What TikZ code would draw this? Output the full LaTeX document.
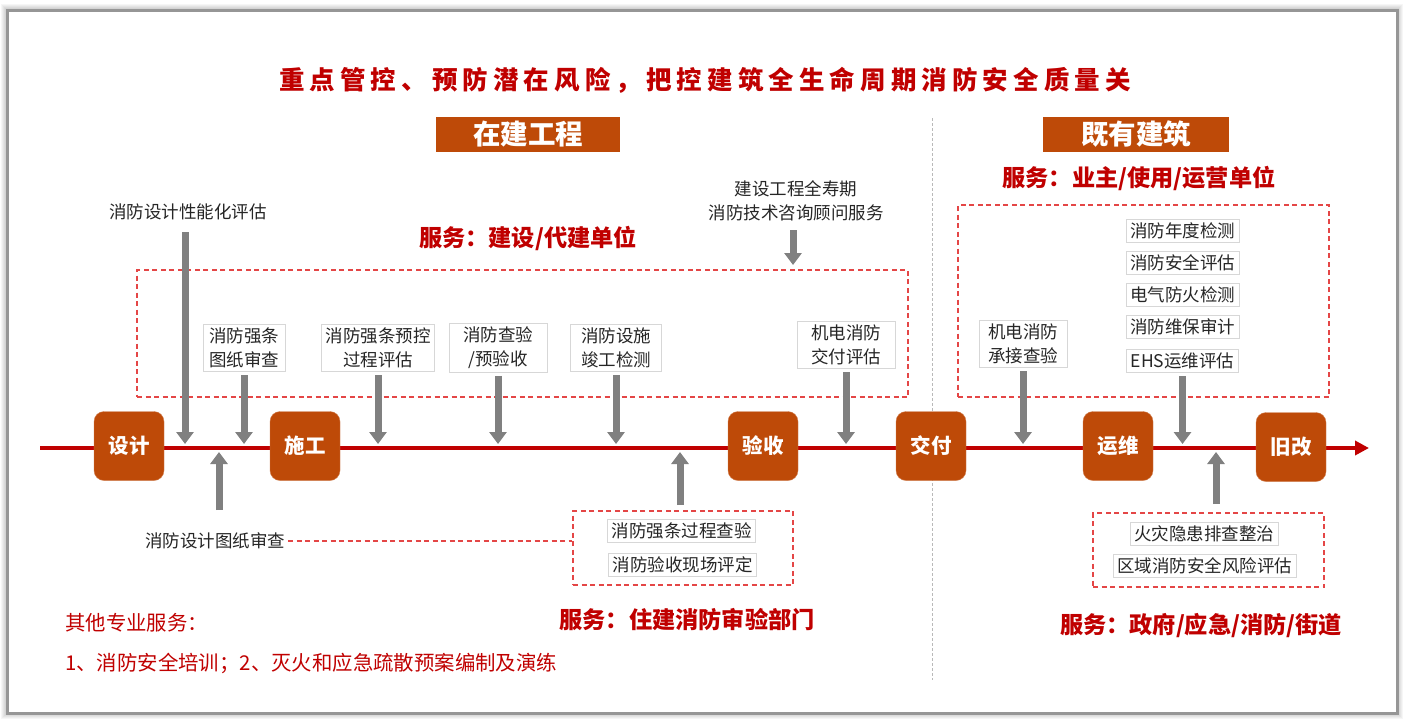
\documentclass[tikz,border=0pt]{standalone}
\usepackage{fontspec}
\setmainfont{Noto Sans CJK SC}
\usetikzlibrary{arrows.meta}
\definecolor{brn}{RGB}{190,74,8}
\definecolor{dred}{RGB}{192,0,0}
\definecolor{dashred}{RGB}{228,70,70}
\definecolor{garr}{RGB}{128,128,128}
\definecolor{txt}{RGB}{38,38,38}
\definecolor{bxline}{RGB}{215,215,215}
\definecolor{frame}{RGB}{150,150,150}
\tikzset{
  stage/.style={fill=brn, draw=brn!70!white, rounded corners=10pt, minimum width=70pt, minimum height=69pt, text=white, font=\fontsize{20.5}{24}\selectfont\bfseries, inner sep=0pt},
  hdr/.style={fill=brn, text=white, font=\fontsize{27.5}{30}\selectfont\bfseries, minimum height=35pt, inner sep=0pt},
  svc/.style={text=dred, font=\fontsize{23.2}{26}\selectfont\bfseries, inner sep=0pt},
  lbl/.style={text=txt, font=\fontsize{17.5}{24}\selectfont, align=center, inner sep=0pt},
  sbox/.style={draw=bxline, fill=white, line width=1pt, text=txt, font=\fontsize{17.5}{24}\selectfont, align=center, inner xsep=4pt, inner ysep=3.5pt},
  dbox/.style={draw=dashred, line width=1.4pt, dash pattern=on 5pt off 3.5pt},
  dline/.style={draw=dashred, line width=1.2pt, dash pattern=on 5pt off 3.5pt},
  garrow/.style={draw=garr, line width=7pt, -{Triangle[width=17pt,length=12pt]}},
  tline/.style={draw=dred, line width=4pt, -{Triangle[width=14pt,length=14pt]}},
  note/.style={text=dred, font=\fontsize{20.4}{24}\selectfont, anchor=west, inner sep=0pt}
}
\begin{document}
\begin{tikzpicture}[x=1pt,y=-1pt]
\useasboundingbox (0,0) rectangle (1405,726);
\fill[white] (0,0) rectangle (1405,726);
% soft shadow of frame
\foreach \i in {1,...,6} {
  \draw[black, opacity=0.035, line width=2*\i pt] (7,10) rectangle (1397,713);
}
\fill[white] (7,10) rectangle (1397,713);
\draw[frame, line width=3pt] (7,10) rectangle (1397,713);

% title
\node[text=dred, font=\fontsize{25.5}{30}\selectfont\bfseries\addfontfeature{LetterSpace=20}, inner sep=0pt] (title) at (705,80) {重点管控、预防潜在风险，把控建筑全生命周期消防安全质量关};

% divider
\coordinate (divT) at (932,118);
\coordinate (divB) at (932,680);
\draw[gray!55, line width=0.8pt, dash pattern=on 3pt off 2pt] (divT) -- (divB);

% headers
\node[hdr, minimum width=184pt] (zj) at (528,134.5) {在建工程};
\node[hdr, minimum width=186pt] (jy) at (1136,134) {既有建筑};

% service labels
\node[svc] (svc1) at (528,238) {服务：建设/代建单位};
\node[svc] (svc2) at (1139,178) {服务：业主/使用/运营单位};
\node[svc] (svc3) at (687,620) {服务：住建消防审验部门};
\node[svc] (svc4) at (1201,626) {服务：政府/应急/消防/街道};

% dashed groups
\node[dbox, minimum width=771pt, minimum height=127pt] (R1) at (522.5,333.5) {};
\node[dbox, minimum width=371pt, minimum height=192pt] (R2) at (1143.5,301) {};
\node[dbox, minimum width=220pt, minimum height=74pt] (R3) at (683,548) {};
\node[dbox, minimum width=231pt, minimum height=74pt] (R4) at (1208.5,550) {};

% timeline
\coordinate (tlS) at (40,448);
\coordinate (tlE) at (1369,448);
\draw[tline] (tlS) -- (tlE);
\coordinate (tipT) at (0,444);
\coordinate (tipB) at (0,452);

% stages
\node[stage] (s1) at (129,446) {设计};
\node[stage] (s2) at (305,446) {施工};
\node[stage] (s3) at (763,446) {验收};
\node[stage] (s4) at (931,446) {交付};
\node[stage] (s5) at (1118,446) {运维};
\node[stage] (s6) at (1291,447) {旧改};

% top labels
\node[lbl] (perf) at (188,212) {消防设计性能化评估};
\node[lbl] (cons) at (796,201) {建设工程全寿期\\消防技术咨询顾问服务};
\coordinate (perfA) at (185,232);
\coordinate (consA) at (793,230);
\coordinate (consB) at (793,265);

% boxes in R1
\node[sbox, minimum width=82pt] (b1) at (244,348) {消防强条\\图纸审查};
\node[sbox, minimum width=109pt] (b2) at (378,348) {消防强条预控\\过程评估};
\node[sbox, minimum width=98pt] (b3) at (498,348) {消防查验\\/预验收};
\node[sbox, minimum width=91pt] (b4) at (616,348) {消防设施\\竣工检测};
\node[sbox, minimum width=98pt] (b5) at (846,345) {机电消防\\交付评估};

% boxes in R2
\node[sbox, minimum width=88pt] (b6) at (1023,344) {机电消防\\承接查验};
\node[sbox] (r1) at (1182.5,231) {消防年度检测};
\node[sbox] (r2) at (1182.5,263) {消防安全评估};
\node[sbox] (r3) at (1182.5,295) {电气防火检测};
\node[sbox] (r4) at (1182.5,327) {消防维保审计};
\node[sbox] (r5) at (1182.5,361) {EHS运维评估};

% bottom boxes
\node[sbox] (m1) at (681.5,531) {消防强条过程查验};
\node[sbox] (m2) at (682.5,565) {消防验收现场评定};
\node[sbox] (n1) at (1204,534) {火灾隐患排查整治};
\node[sbox] (n2) at (1204.5,566) {区域消防安全风险评估};

% drawing review label
\node[lbl] (rev) at (215,541) {消防设计图纸审查};
\coordinate (revA) at (219,510);
\coordinate (midA) at (680,505);
\coordinate (rgtA) at (1216,504);

% gray arrows down
\draw[garrow] (perfA) -- (perfA |- tipT);
\draw[garrow, shorten <=3pt] (b1.south) -- (b1.south |- tipT);
\draw[garrow, shorten <=3pt] (b2.south) -- (b2.south |- tipT);
\draw[garrow, shorten <=3pt] (b3.south) -- (b3.south |- tipT);
\draw[garrow, shorten <=3pt] (b4.south) -- (b4.south |- tipT);
\draw[garrow, shorten <=3pt] (b5.south) -- (b5.south |- tipT);
\draw[garrow, shorten <=3pt] (b6.south) -- (b6.south |- tipT);
\draw[garrow, shorten <=3pt] (r5.south) -- (r5.south |- tipT);
\draw[garrow] (consA) -- (consB);

% gray arrows up
\draw[garrow] (revA) -- (revA |- tipB);
\draw[garrow] (midA) -- (midA |- tipB);
\draw[garrow] (rgtA) -- (rgtA |- tipB);

% dashed connector
\draw[dline, shorten <=3pt] (rev.east) -- (rev.east -| R3.west);

% notes
\node[note] (oth) at (65,623) {其他专业服务：};
\node[note] (oth2) at (65,663) {1、消防安全培训；2、灭火和应急疏散预案编制及演练};
\end{tikzpicture}
\end{document}
